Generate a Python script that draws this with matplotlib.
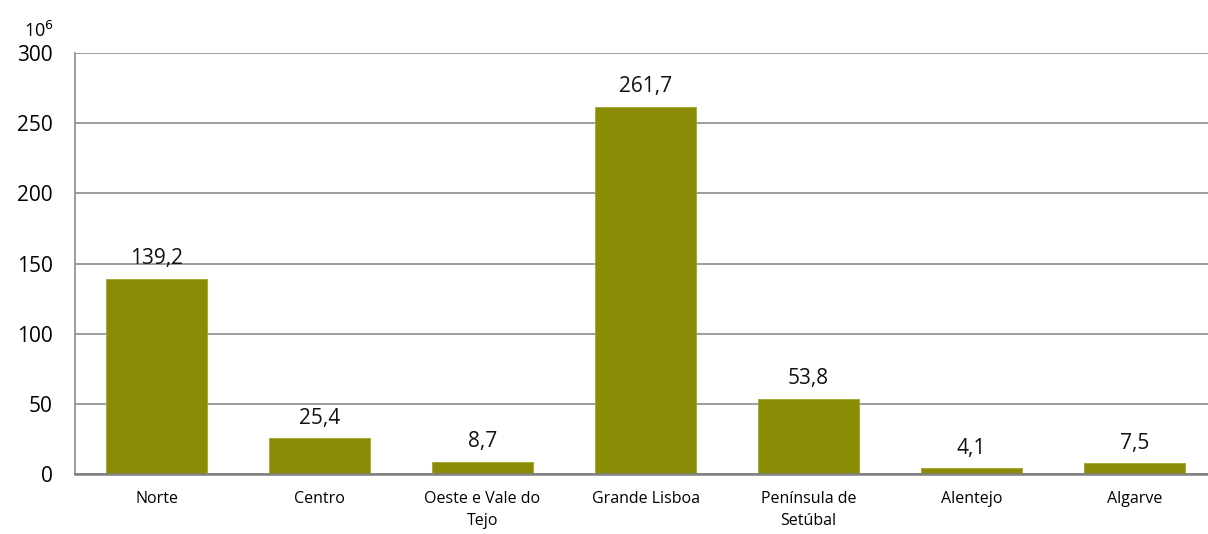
import matplotlib
matplotlib.use("Agg")
import matplotlib.pyplot as plt

regions = ["Norte", "Centro", "Oeste e Vale do\nTejo", "Grande Lisboa",
           "Península de\nSetúbal", "Alentejo", "Algarve"]
values = [139.2, 25.4, 8.7, 261.7, 53.8, 4.1, 7.5]
labels = ["139,2", "25,4", "8,7", "261,7", "53,8", "4,1", "7,5"]
yticks = [0, 50, 100, 150, 200, 250, 300]

plt.rcParams["font.family"] = ["Open Sans", "DejaVu Sans"]

fig = plt.figure(figsize=(12.08, 5.34), dpi=100)
ax = fig.add_axes([75 / 1208, 1 - 474 / 534, (1208 - 75) / 1208, (474 - 53) / 534])

x = range(len(regions))
ax.bar(x, values, width=0.62, color="#8b8c06", edgecolor="#a3a52a", linewidth=0.6, zorder=3)
for xi, v, lab in zip(x, values, labels):
    ax.annotate(lab, (xi, v), xytext=(0, 7), textcoords="offset points",
                ha="center", va="bottom", fontsize=15, color="#111111")

ax.set_xlim(-0.5, 6.45)
ax.set_ylim(0, 300)
ax.set_yticks(yticks)
ax.set_yticklabels([str(t) for t in yticks], fontsize=15)
ax.set_xticks(list(x))
ax.set_xticklabels(regions, fontsize=11.5, linespacing=1.55)
ax.tick_params(axis="x", length=0, pad=12)
ax.tick_params(axis="y", length=0, pad=16)
ax.yaxis.grid(True, color="#8c8c8c", linewidth=1.2, zorder=0)
for s in ["top", "right"]:
    ax.spines[s].set_visible(False)
ax.spines["left"].set_color("#8c8c8c")
ax.spines["left"].set_linewidth(1.2)
ax.spines["bottom"].set_color("#7f7f7f")
ax.spines["bottom"].set_linewidth(1.8)
ax.spines["bottom"].set_zorder(4)

fig.text(24 / 1208, 1 - 37 / 534, "10$^{6}$", fontsize=13, ha="left", va="baseline")

fig.savefig("out.png", dpi=100)
